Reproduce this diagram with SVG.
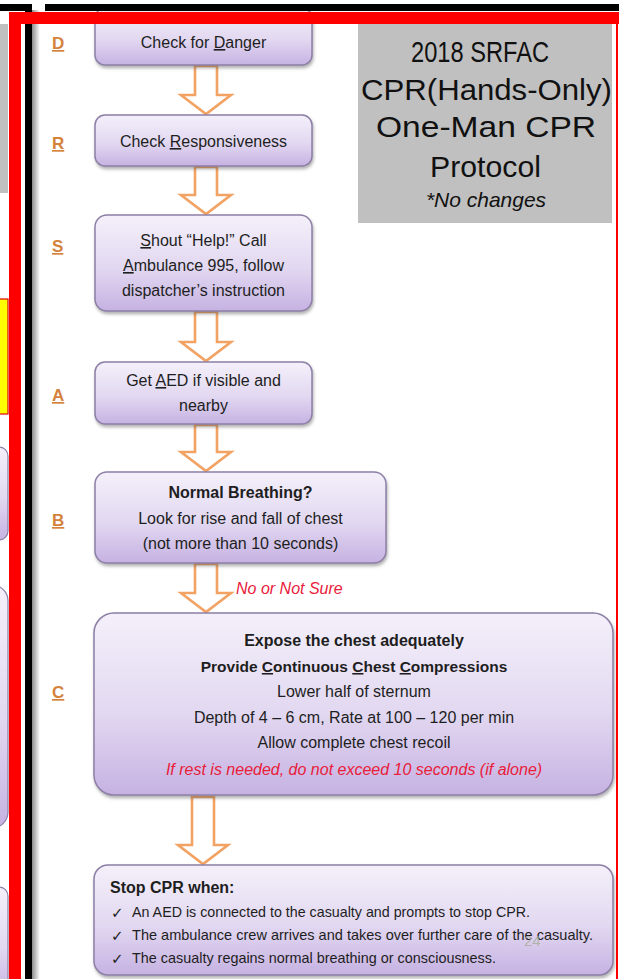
<svg xmlns="http://www.w3.org/2000/svg" width="619" height="979" viewBox="0 0 619 979">
<defs>
<linearGradient id="lav" x1="0" y1="0" x2="0" y2="1">
<stop offset="0" stop-color="#f4f0fa"/>
<stop offset="0.55" stop-color="#e2d8f1"/>
<stop offset="1" stop-color="#c6b2e2"/>
</linearGradient>
<linearGradient id="shade" x1="0" y1="0" x2="1" y2="0">
<stop offset="0" stop-color="#8c8c8c"/>
<stop offset="1" stop-color="#ffffff"/>
</linearGradient>
<filter id="sh" x="-5%" y="-10%" width="110%" height="130%">
<feDropShadow dx="1" dy="2.5" stdDeviation="1.8" flood-color="#555" flood-opacity="0.45"/>
</filter>
<style>
.box{fill:url(#lav);stroke:#8d7fa6;stroke-width:1.5;filter:url(#sh)}
.t{font-family:"Liberation Sans",Arial,sans-serif;font-size:16px;fill:#1e1e1e;text-anchor:middle}
.b{font-weight:bold}
.red{fill:#e8203a;font-style:italic}
.lbl{font-family:"Liberation Sans",Arial,sans-serif;font-size:17px;font-weight:bold;fill:#d4823c;text-decoration:underline}
.arr{fill:#ffffff;stroke:#f2a263;stroke-width:2.6;stroke-linejoin:miter}
.ttl{font-family:"Liberation Sans",Arial,sans-serif;font-size:29px;fill:#111;text-anchor:middle}
.sm{font-family:"Liberation Sans",Arial,sans-serif;font-size:14.5px;fill:#1e1e1e}
.ck{font-family:"DejaVu Sans",sans-serif;font-size:15px;fill:#1e1e1e}
.u{text-decoration:underline}
</style>
</defs>
<rect x="0" y="0" width="619" height="979" fill="#ffffff"/>

<g id="left-edge">
<rect x="0" y="24" width="8" height="169" fill="#c0c0c0"/>
<rect x="-2" y="299" width="10" height="115" fill="#ffff00" stroke="#e00000" stroke-width="1.2"/>
<rect x="-40" y="447" width="48" height="93" rx="9" fill="url(#lav)" stroke="#8d7fa6" stroke-width="1.2"/>
<rect x="-60" y="585" width="68" height="243" rx="16" fill="url(#lav)" stroke="#8d7fa6" stroke-width="1.2"/>
<rect x="-40" y="887" width="48" height="110" rx="9" fill="url(#lav)" stroke="#8d7fa6" stroke-width="1.2"/>
</g>

<g id="side-bar">
<rect x="32" y="10" width="8" height="969" fill="url(#shade)"/>
<rect x="25" y="10" width="7" height="969" fill="#000000"/>
</g>

<g id="letters">
<text class="lbl" x="52" y="49">D</text>
<text class="lbl" x="52" y="149">R</text>
<text class="lbl" x="52" y="252">S</text>
<text class="lbl" x="52" y="401">A</text>
<text class="lbl" x="52" y="526">B</text>
<text class="lbl" x="52" y="698">C</text>
</g>

<g id="connectors">
<path class="arr" d="M195,66 L217,66 L217,95 L231,95 L206,114 L181,95 L195,95 Z"/>
<path class="arr" d="M195,167 L217,167 L217,195 L231,195 L206,214 L181,195 L195,195 Z"/>
<path class="arr" d="M195,312 L217,312 L217,342 L231,342 L206,361 L181,342 L195,342 Z"/>
<path class="arr" d="M195,425 L217,425 L217,452 L231,452 L206,471 L181,452 L195,452 Z"/>
<path class="arr" d="M195,564 L217,564 L217,593 L231,593 L206,612 L181,593 L195,593 Z"/>
<text class="t red" x="236" y="594" style="text-anchor:start">No or Not Sure</text>
<path class="arr" d="M192,797 L214,797 L214,845 L228,845 L203,864 L178,845 L192,845 Z"/>
</g>

<g id="node-danger">
<rect class="box" x="95" y="8" width="217" height="57" rx="10"/>
<text class="t" x="203.5" y="48">Check for <tspan class="u">D</tspan>anger</text>
</g>

<g id="node-responsive">
<rect class="box" x="95" y="115" width="217" height="51" rx="10"/>
<text class="t" x="203.5" y="147">Check <tspan class="u">R</tspan>esponsiveness</text>
</g>

<g id="node-shout">
<rect class="box" x="95" y="215" width="217" height="96" rx="12"/>
<text class="t" x="203.5" y="246"><tspan class="u">S</tspan>hout “Help!” Call</text>
<text class="t" x="203.5" y="271"><tspan class="u">A</tspan>mbulance 995, follow</text>
<text class="t" x="203.5" y="296">dispatcher’s instruction</text>
</g>

<g id="node-aed">
<rect class="box" x="95" y="362" width="217" height="62" rx="10"/>
<text class="t" x="203.5" y="386">Get <tspan class="u">A</tspan>ED if visible and</text>
<text class="t" x="203.5" y="411">nearby</text>
</g>

<g id="node-breathing">
<rect class="box" x="95" y="472" width="291" height="91" rx="12"/>
<text class="t b" x="240.5" y="498">Normal Breathing?</text>
<text class="t" x="240.5" y="524">Look for rise and fall of chest</text>
<text class="t" x="240.5" y="549">(not more than 10 seconds)</text>
</g>

<g id="node-compressions">
<rect class="box" x="94" y="613" width="519" height="182" rx="20"/>
<text class="t b" x="354" y="646">Expose the chest adequately</text>
<text class="t b" x="354" y="672" style="font-size:15.5px">Provide <tspan class="u">C</tspan>ontinuous <tspan class="u">C</tspan>hest <tspan class="u">C</tspan>ompressions</text>
<text class="t" x="354" y="697">Lower half of sternum</text>
<text class="t" x="354" y="723">Depth of 4 – 6 cm, Rate at 100 – 120 per min</text>
<text class="t" x="354" y="748">Allow complete chest recoil</text>
<text class="t red" x="354" y="775">If rest is needed, do not exceed 10 seconds (if alone)</text>
</g>

<g id="node-stop">
<rect class="box" x="94" y="865" width="519" height="110" rx="14"/>
<text class="t b" x="110" y="893" style="text-anchor:start">Stop CPR when:</text>
<text class="ck" x="111" y="918">✓</text>
<text class="sm" x="132" y="917" textLength="398" lengthAdjust="spacingAndGlyphs">An AED is connected to the casualty and prompts to stop CPR.</text>
<text class="ck" x="111" y="941">✓</text>
<text class="sm" x="132" y="940" textLength="461" lengthAdjust="spacingAndGlyphs">The ambulance crew arrives and takes over further care of the casualty.</text>
<text class="ck" x="111" y="964">✓</text>
<text class="sm" x="132" y="963" textLength="364" lengthAdjust="spacingAndGlyphs">The casualty regains normal breathing or consciousness.</text>
<text x="524" y="946" style="font-family:'Liberation Sans',Arial,sans-serif;font-size:15px;fill:#a8ae9c;opacity:0.8">24</text>
</g>

<g id="title-box">
<rect x="358" y="20" width="254" height="203" fill="#c0c0c0"/>
<text class="ttl" x="480" y="62" textLength="138" lengthAdjust="spacingAndGlyphs">2018 SRFAC</text>
<text class="ttl" x="486.5" y="100" textLength="251" lengthAdjust="spacingAndGlyphs">CPR(Hands-Only)</text>
<text class="ttl" x="486" y="137" textLength="220" lengthAdjust="spacingAndGlyphs">One-Man CPR</text>
<text class="ttl" x="485.5" y="177" textLength="111" lengthAdjust="spacingAndGlyphs">Protocol</text>
<text class="ttl" x="486" y="207" style="font-size:21px;font-style:italic">*No changes</text>
</g>

<g id="frame">
<rect x="9" y="12" width="610" height="12" fill="#ff0000"/>
<rect x="9" y="12" width="12" height="967" fill="#ff0000"/>
<rect x="616" y="12" width="2" height="967" fill="#ff0000"/>
<rect x="0" y="4" width="32" height="7" fill="#000000"/>
<rect x="45" y="4" width="574" height="7" fill="#000000"/>
</g>
</svg>
